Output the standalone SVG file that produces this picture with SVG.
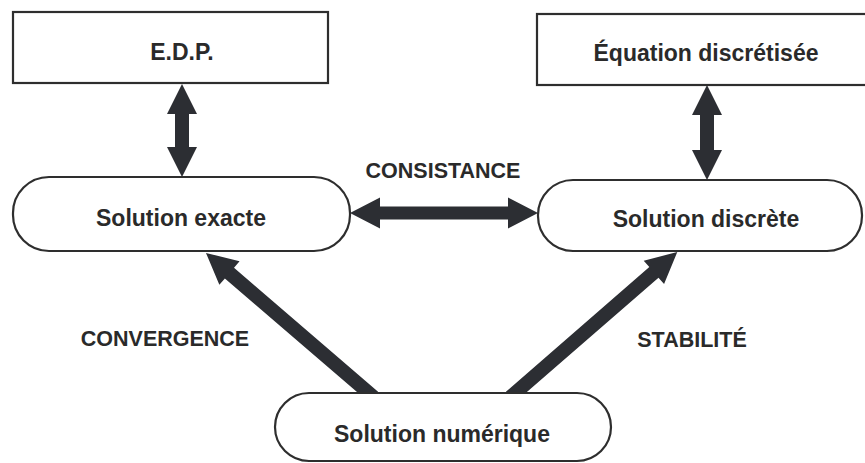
<svg xmlns="http://www.w3.org/2000/svg" width="865" height="463" viewBox="0 0 865 463">
<style>
.box{fill:#fff;stroke:#2e2e2e;stroke-width:2.2}
.arr{fill:#2c2e33;stroke:none}
.nt{font-family:"Liberation Sans",Arial,sans-serif;font-weight:bold;font-size:23px;fill:#2a2a2a;text-anchor:middle}
.lb{font-family:"Liberation Sans",Arial,sans-serif;font-weight:bold;font-size:21.5px;fill:#2a2a2a;text-anchor:middle}
</style>
<defs>
<path id="sarrow" d="M0,-7 L190,-7 L190,-15.5 L221,0 L190,15.5 L190,7 L0,7 Z"/>
</defs>
<rect width="865" height="463" fill="#fff"/>
<g id="connectors">
<polygon class="arr" points="182,84 197,114 189,114 189,147 197,147 182,177 167,147 175,147 175,114 167,114"/>
<polygon class="arr" points="707,85 722,115 714,115 714,150 722,150 707,180 692,150 700,150 700,115 692,115"/>
<polygon class="arr" points="350,213 380,197.5 380,206.5 508,206.5 508,197.5 538,213 508,228.5 508,219.5 380,219.5 380,228.5"/>
<use href="#sarrow" class="arr" transform="translate(373.5,397) rotate(-139.3)"/>
<use href="#sarrow" class="arr" transform="translate(510.5,397) rotate(-41)"/>
<text class="lb" x="443" y="178">CONSISTANCE</text>
<text class="lb" x="165" y="346">CONVERGENCE</text>
<text class="lb" x="692" y="347">STABILITÉ</text>
</g>
<g id="edp">
<rect class="box" x="13" y="12" width="315" height="71"/>
<text class="nt" x="182" y="60">E.D.P.</text>
</g>
<g id="equation">
<rect class="box" x="537" y="14" width="335" height="71"/>
<text class="nt" x="706" y="61">Équation discrétisée</text>
</g>
<g id="sol-exacte">
<rect class="box" x="13" y="177" width="337" height="74" rx="36" ry="36"/>
<text class="nt" x="181" y="226">Solution exacte</text>
</g>
<g id="sol-discrete">
<rect class="box" x="538" y="180" width="324" height="71" rx="35" ry="35"/>
<text class="nt" x="706" y="227">Solution discrète</text>
</g>
<g id="sol-numerique">
<rect class="box" x="275" y="393" width="336" height="68" rx="34" ry="34"/>
<text class="nt" x="442" y="442">Solution numérique</text>
</g>
</svg>
